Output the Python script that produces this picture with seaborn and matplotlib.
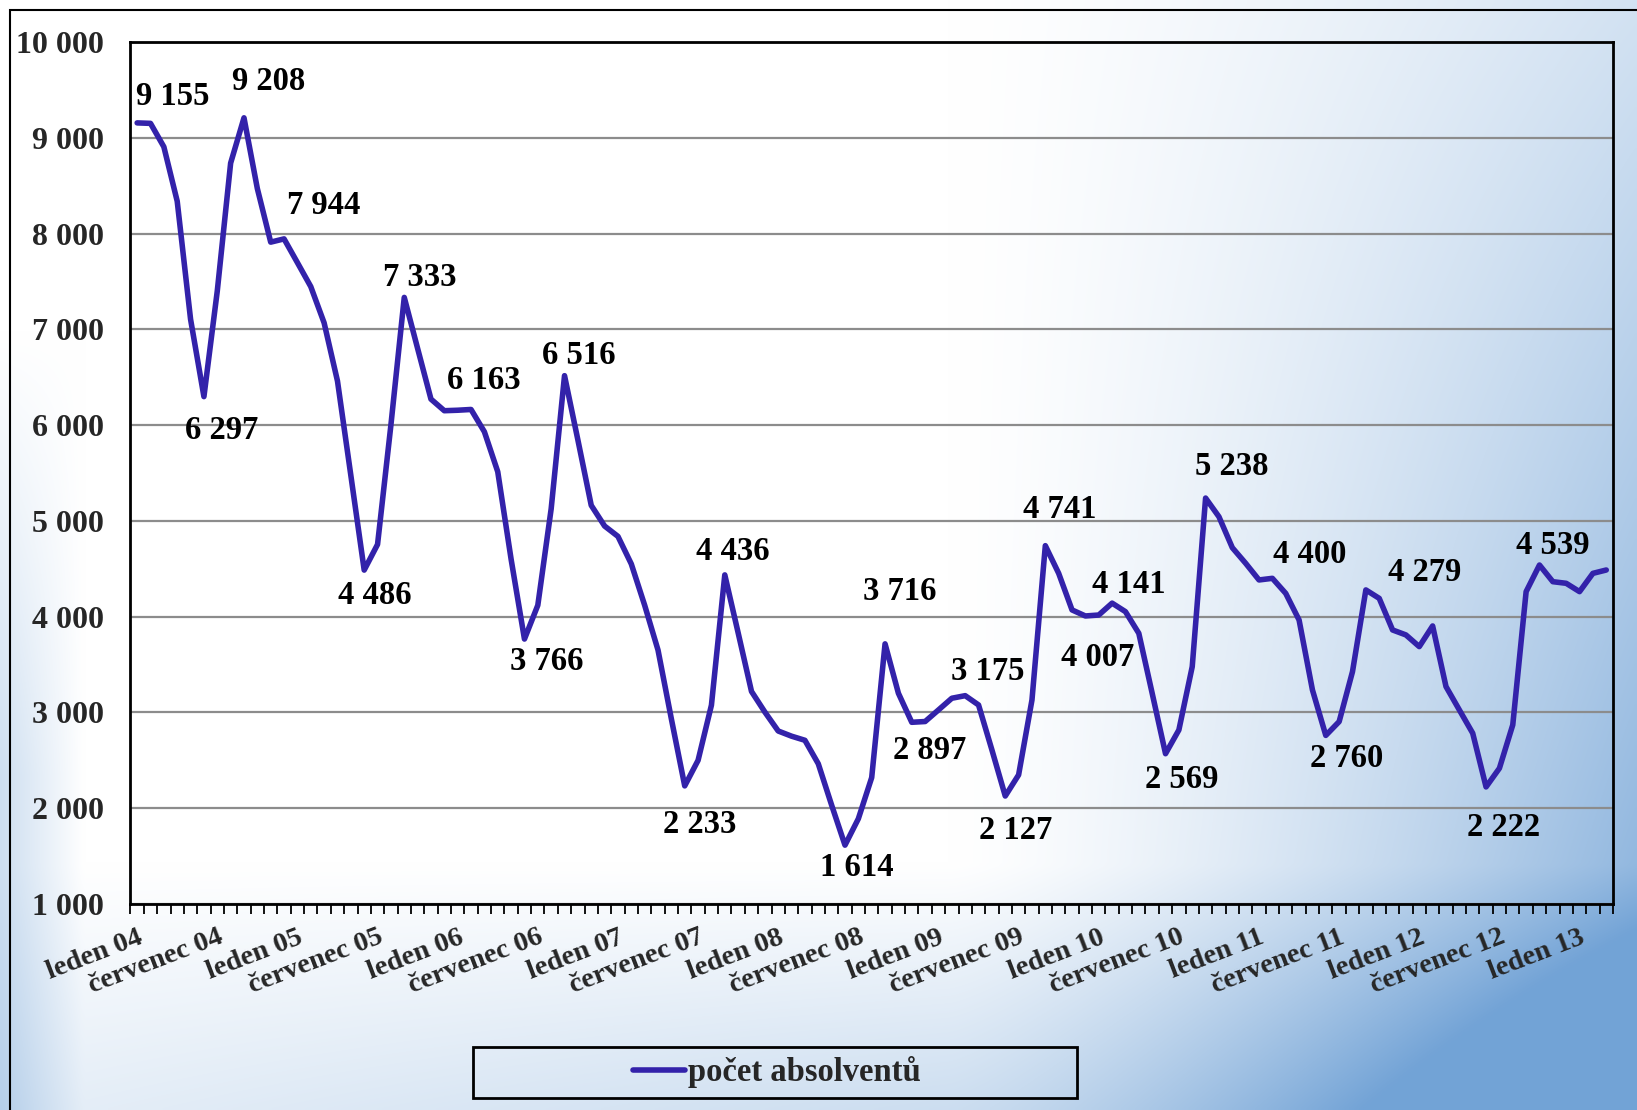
import matplotlib
matplotlib.use("Agg")
import matplotlib.pyplot as plt
import numpy as np
import pandas as pd
import seaborn as sns
from matplotlib.patches import Rectangle

# data: monthly counts of registered graduates, Jan 2004 - Mar 2013
month_names = ["leden", "únor", "březen", "duben", "květen", "červen",
               "červenec", "srpen", "září", "říjen", "listopad", "prosinec"]
years = ["04", "05", "06", "07", "08", "09", "10", "11", "12", "13"]
categories = [f"{m} {y}" for y in years for m in month_names][:111]

values = [
    9155, 9150, 8905, 8337, 7105, 6297, 7400, 8735, 9208, 8469,
    7910, 7944, 7696, 7446, 7067, 6460, 5475, 4486, 4754, 6000,
    7333, 6800, 6271, 6150, 6155, 6163, 5930, 5513, 4600, 3766,
    4119, 5126, 6516, 5845, 5162, 4946, 4838, 4550, 4119, 3651,
    2932, 2233, 2500, 3076, 4436, 3831, 3219, 3004, 2806, 2752,
    2709, 2464, 2032, 1614, 1890, 2320, 3716, 3200, 2897, 2905,
    3026, 3148, 3175, 3078, 2609, 2127, 2348, 3130, 4741, 4452,
    4070, 4007, 4017, 4141, 4052, 3826, 3200, 2569, 2817, 3478,
    5238, 5043, 4720, 4557, 4383, 4400, 4243, 3965, 3235, 2760,
    2904, 3426, 4279, 4191, 3861, 3809, 3687, 3903, 3270, 3026,
    2783, 2222, 2417, 2870, 4261, 4539, 4365, 4348, 4261, 4452, 4487,
]

labelled = [0, 5, 8, 11, 17, 20, 25, 29, 32, 41, 44, 53, 56, 58, 62, 65,
            68, 71, 73, 77, 80, 85, 89, 92, 101, 105]
# label placement offsets (points) relative to the point
offsets = [(25.6, 18.8), (12.8, -24.1), (18.0, 26.3), (28.6, 24.1), (7.5, -18.0),
           (11.3, 14.3), (9.0, 21.0), (15.8, -16.5), (10.5, 14.3), (10.5, -27.8),
           (6.0, 16.5), (8.3, -15.8), (10.5, 37.6), (12.8, -20.3), (16.5, 17.3),
           (7.5, -24.8), (10.5, 26.3), (9.0, -30.1), (12.0, 13.5), (11.3, -18.8),
           (18.8, 22.6), (27.1, 17.3), (15.0, -16.5), (42.1, 12.8), (12.8, -29.3),
           (9.8, 14.3)]

series_name = "počet absolventů"
line_color = "#3322aa"

df = pd.DataFrame({"idx": range(len(values)), "month": categories, "value": values})

sns.set_style("white")
plt.rcParams["font.family"] = ["Liberation Serif", "DejaVu Serif"]
plt.rcParams["font.weight"] = "bold"

fig = plt.figure(figsize=(16.37, 11.10), dpi=100)

# background gradient
bg = fig.add_axes([0, 0, 1, 1], zorder=-10)
h, w = 280, 410
yy, xx = np.mgrid[0:1:h * 1j, 0:1:w * 1j]
tx = np.clip((xx - 0.58) / 0.42, 0, 1) ** 1.4 * (0.35 + 0.65 * yy)
ty = np.clip((yy - 0.78) / 0.22, 0, 1) * (0.35 + 0.65 * xx)
tl = np.clip((0.05 - xx) / 0.05, 0, 1) * np.clip((yy - 0.3) / 0.4, 0, 1)
t = np.clip(0.9 * tx + 0.5 * ty + 0.35 * tl + 0.25 * tx * ty, 0, 1)
white = np.array([1.0, 1.0, 1.0])
blue = np.array([0.45, 0.64, 0.84])
img = white[None, None, :] * (1 - t[..., None]) + blue[None, None, :] * t[..., None]
bg.imshow(img, extent=[0, 1, 0, 1], aspect="auto", interpolation="bilinear")
bg.set_xlim(0, 1)
bg.set_ylim(0, 1)
bg.axis("off")

ax = fig.add_axes([0.0797, 0.1856, 0.9056, 0.7766])
ax.set_facecolor("none")

sns.lineplot(data=df, x="idx", y="value", ax=ax, color=line_color,
             linewidth=4, label=series_name, legend=False)

for i, (dx, dy) in zip(labelled, offsets):
    ax.annotate(f"{values[i]:,}".replace(",", " "), (i, values[i]),
                xytext=(dx, dy), textcoords="offset points",
                ha="center", va="center", fontsize=23.5, fontweight="bold",
                color="black")

ax.set_xlim(-0.5, len(values) - 0.5)
ax.set_ylim(1000, 10000)
ax.set_yticks(range(1000, 10001, 1000))
ax.set_yticklabels([f"{v:,}".replace(",", " ") for v in range(1000, 10001, 1000)],
                   fontsize=23, fontweight="bold")
ax.yaxis.grid(True, color="#8c8c8c", linewidth=1.6)
ax.xaxis.grid(False)
ax.tick_params(axis="y", length=0, pad=19)

tick_pos = list(range(0, len(values), 6))
ax.set_xticks(tick_pos)
ax.set_xticklabels([categories[i] for i in tick_pos], rotation=21,
                   ha="right", va="top", rotation_mode="anchor",
                   fontsize=20.5, fontweight="bold")
ax.set_xticks(np.arange(-0.5, len(values), 1), minor=True)
ax.tick_params(axis="x", which="major", length=0, pad=15)
ax.tick_params(axis="x", which="minor", length=7, width=1.3, color="black",
               direction="out", bottom=True)
ax.set_xlabel("")
ax.set_ylabel("")
for sp in ax.spines.values():
    sp.set_color("black")
    sp.set_linewidth(2)

# outer frame
fig.patches.append(Rectangle((10 / 1637, -0.02), 1.02, 1 - 10 / 1110 + 0.02,
                             transform=fig.transFigure, fill=False,
                             edgecolor="black", linewidth=1.5))

# legend box
fig.patches.append(Rectangle((473 / 1637, 12 / 1110), 604 / 1637, 51 / 1110,
                             transform=fig.transFigure, fill=False,
                             edgecolor="black", linewidth=2))
handles, labels = ax.get_legend_handles_labels()
fig.legend(handles, labels, loc="center", bbox_to_anchor=(777 / 1637, 37.5 / 1110),
           frameon=False, handlelength=1.6, handletextpad=0.1,
           prop={"size": 23.5, "weight": "bold"})

fig.savefig("out.png", dpi=100)
